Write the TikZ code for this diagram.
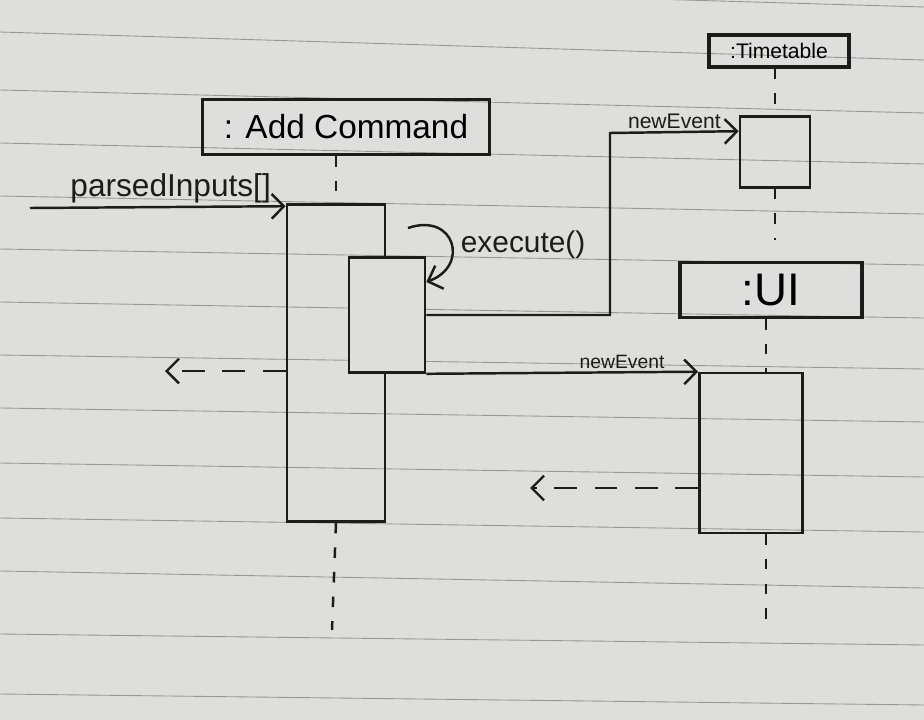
\documentclass[tikz,border=0pt]{standalone}
\usepackage{fontspec}
\setmainfont{Liberation Sans}
\usepackage{tikz}
\usepackage{xcolor}
\usetikzlibrary{positioning,arrows.meta}
\definecolor{paper}{RGB}{222,222,220}
\definecolor{rule}{RGB}{150,150,150}
\definecolor{pen}{RGB}{28,28,28}

\begin{document}
\begin{tikzpicture}
[
x=0.02cm, y=-0.02cm,
head-a/.style={draw=pen, line width=1.8pt, inner sep=0mm},
act-a/.style={draw=pen, line width=1.5pt, inner sep=0mm},
text-a/.style={pen, inner sep=0.5mm},
msg-a/.style={draw=pen, line width=1.4pt, -{Straight Barb[length=7pt,width=14pt]}},
ret-a/.style={msg-a, dash pattern=on 13pt off 10pt},
life-a/.style={draw=pen, line width=1.4pt, dash pattern=on 6pt off 8pt}
]
% paper and ruled lines
\fill[paper] (0,0) rectangle (924,720);
\useasboundingbox (0,0) rectangle (924,720);
\foreach \l/\r in {-20/7, 32/60, 90/113, 143/164, 196/214, 249/265, 302/318,
                   355/369, 408/422, 463/477, 518/532, 571/588, 634/645, 694/705}
  \draw[rule, line width=0.5pt] (0,\l) -- (924,\r);

% objects
\node (add-head) [head-a, minimum width=57.4mm, minimum height=11.0mm] at (346,127) {\fontsize{19}{20}\selectfont : Add Command};
\node (tt-head)  [head-a, minimum width=28.0mm, minimum height=6.4mm ] at (779,51)  {\fontsize{12}{13}\selectfont :Timetable};
\node (ui-head)  [head-a, minimum width=36.4mm, minimum height=11.0mm] at (771,290) {\fontsize{26}{28}\selectfont :UI};

% activations
\node (add-act)  [act-a, minimum width=19.6mm, minimum height=63.4mm] at (336,363) {};
\node (add-self) [act-a, fill=paper, minimum width=15.2mm, minimum height=23.0mm] at (387,315) {};
\node (tt-act)   [act-a, minimum width=14.0mm, minimum height=14.2mm] at (775,152) {};
\node (ui-act)   [act-a, minimum width=20.6mm, minimum height=32.0mm] at (751,453) {};

% free ends
\coordinate (caller)     at (30,208);
\coordinate (add-ret)    at (165,371);
\coordinate (self-start) at (408,228);
\coordinate (bend)       at (610,133);
\coordinate (ui-ret)     at (530,488);
\coordinate (add-end)    at (332,630);
\coordinate (tt-end)     at (775,240);
\coordinate (ui-end)     at (766,630);

% lifelines
\draw[life-a] (add-act.north |- add-head.south) -- (add-act.north);
\draw[life-a] (add-act.south) -- (add-end);
\draw[life-a] (tt-act.north |- tt-head.south) -- (tt-act.north);
\draw[life-a] (tt-act.south) -- (tt-end);
\draw[life-a] (ui-head.south -| ui-end) -- (ui-act.north -| ui-end);
\draw[life-a] (ui-act.south -| ui-end) -- (ui-end);

% messages
\draw[msg-a] (caller) -- ([yshift=-0.6mm]add-act.north west)
  node[text-a, above, pos=0.55] {\fontsize{18}{19}\selectfont parsedInputs[]};
\draw[ret-a] (add-act.west |- add-ret) -- (add-ret);
\draw[msg-a] (self-start) .. controls (455,212) and (470,266) .. ([yshift=6.6mm]add-self.east);
\node (exec-label) [text-a, anchor=west] at (458,245) {\fontsize{17}{18}\selectfont execute()};
\draw[msg-a] (add-self.east) -| (bend) -- ([yshift=-3.2mm]tt-act.north west)
  node[text-a, above, midway] {\fontsize{12}{13}\selectfont newEvent};
\draw[msg-a] (add-self.south east) -- (ui-act.north west)
  node[text-a, above, pos=0.72] {\fontsize{11}{12}\selectfont newEvent};
\draw[ret-a] (ui-act.west |- ui-ret) -- (ui-ret);
\end{tikzpicture}
\end{document}
